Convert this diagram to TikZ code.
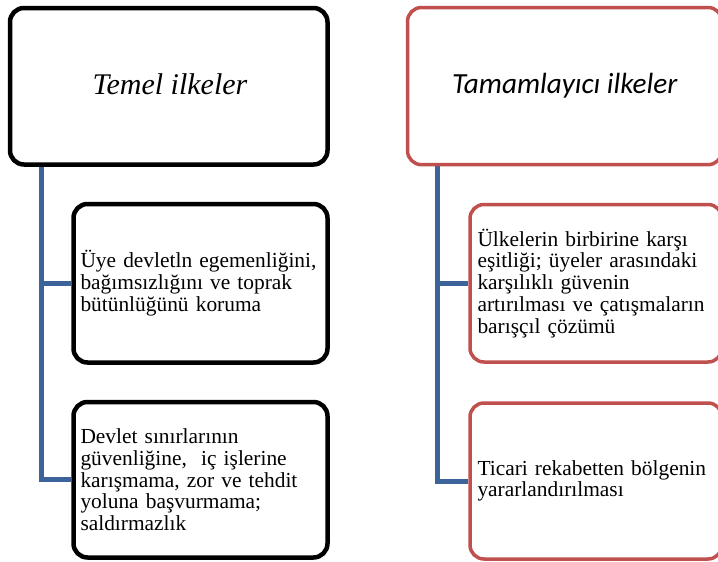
\documentclass[tikz,border=0pt]{standalone}
\usepackage{fontspec}
\setmainfont{Liberation Serif}
\newfontfamily\calibrifont{Carlito}
\pgfdeclarelayer{background}
\pgfsetlayers{background,main}
\definecolor{boxred}{RGB}{192,80,77}
\definecolor{connblue}{RGB}{60,100,155}
\tikzset{
  topbox/.style={draw=black, line width=4.5pt, rounded corners=14pt, fill=white,
    inner sep=0pt, align=center, font=\itshape\fontsize{30}{33}\selectfont},
  topredbox/.style={topbox, draw=boxred, line width=3.5pt, font=\calibrifont\itshape\fontsize{29.2}{33}\selectfont},
  childbox/.style={draw=black, line width=4.5pt, rounded corners=14pt, fill=white,
    inner xsep=7pt, inner ysep=0pt, align=left, font=\fontsize{21.4}{21.7}\selectfont},
  childredbox/.style={childbox, draw=boxred, line width=3.5pt, inner xsep=7.5pt}
}
\tikzset{conn/.style={draw=connblue, line width=5pt}}
\begin{document}
\begin{tikzpicture}[x=1pt, y=-1pt]
\useasboundingbox (0,0) rectangle (718,562);
\clip (0,0) rectangle (718,562);
% left column
\node[topbox, minimum width=317.5pt, minimum height=156.5pt] (t1) at (168.75,86.25) {};
\node[font=\itshape\fontsize{30}{33}\selectfont, inner sep=0pt] (t1text) at (170,84) {Temel ilkeler};
\node[childbox, minimum width=254pt, minimum height=158.5pt, text width=240pt] (a1) at (200.5,283.25)
  {Üye devletln egemenliğini,\\ bağımsızlığını ve toprak\\ bütünlüğünü koruma};
\node[childbox, minimum width=254pt, minimum height=155.5pt, text width=240pt] (a2) at (200.5,479.75)
  {Devlet sınırlarının\\ güvenliğine,\ \ iç işlerine\\ karışmama, zor ve tehdit\\ yoluna başvurmama;\\ saldırmazlık};
% right column
\node[topredbox, minimum width=314.5pt, minimum height=157.2pt] (t2) at (564.75,86.1) {Tamamlayıcı ilkeler};
\node[childredbox, minimum width=252pt, minimum height=157.5pt, text width=237pt] (b1) at (596,283.25)
  {Ülkelerin birbirine karşı\\ eşitliği; üyeler arasındaki\\ karşılıklı güvenin\\ artırılması ve çatışmaların\\ barışçıl çözümü};
\node[childredbox, minimum width=252pt, minimum height=156pt, text width=237pt] (b2) at (596,481)
  {Ticari rekabetten bölgenin\\ yararlandırılması};
% connectors
\begin{pgfonlayer}{background}
\coordinate (ja) at ([xshift=33.5pt]t1.south west);
\coordinate (jb) at ([xshift=31.5pt]t2.south west);
\draw[conn] (ja) |- (a1.west);
\draw[conn] (ja) |- (a2.west);
\draw[conn] (jb) |- (b1.west);
\draw[conn] (jb) |- (b2.west);
\end{pgfonlayer}
\end{tikzpicture}
\end{document}
